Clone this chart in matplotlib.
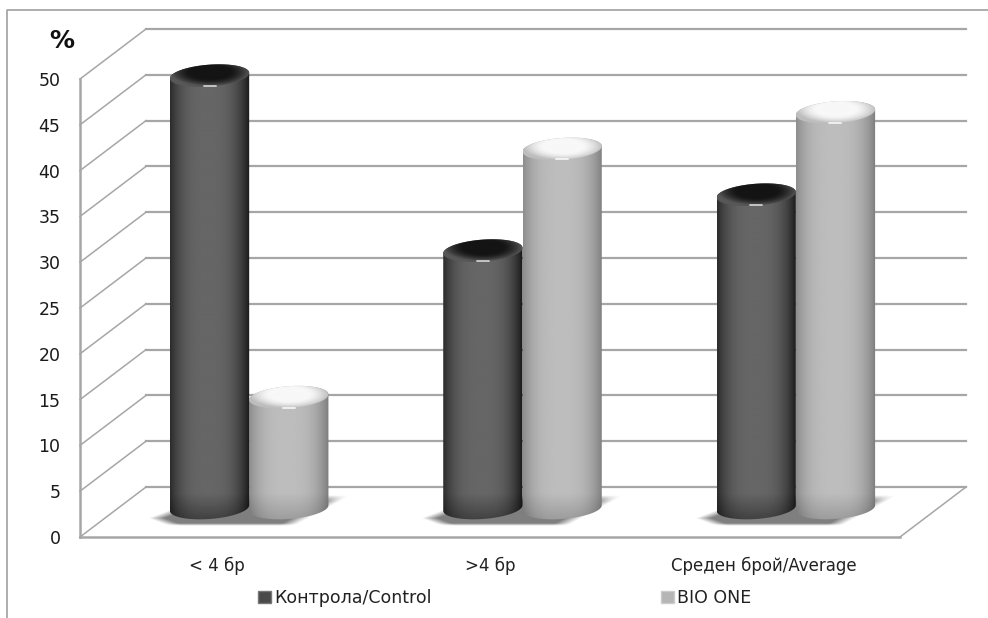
import matplotlib
matplotlib.use('Agg')
import matplotlib.pyplot as plt
import numpy as np
from matplotlib.lines import Line2D
from matplotlib.patches import Patch, PathPatch
from matplotlib.path import Path
from matplotlib.transforms import ScaledTranslation

plt.rcParams['font.family'] = ['DejaVu Sans']

categories = ['< 4 бр', '>4 бр', 'Среден брой/Average']
control = [47.2, 28.1, 34.2]
bio_one = [12.1, 39.2, 43.2]
series_names = ['Контрола/Control', 'BIO ONE']
y_ticks = [0, 5, 10, 15, 20, 25, 30, 35, 40, 45, 50]

grid_col = '#a6a6a6'
bar_w = 0.29
ell_h = 1.2       # half height of the cylinder ends, in value units
tilt = 0.3

fig = plt.figure(figsize=(9.88, 6.18), dpi=100)
ax = fig.add_axes([80/988, 1-537/618, 820/988, 458/618])

# depth of the fake 3d box, inches
back = ax.transData + ScaledTranslation(0.66, 0.50, fig.dpi_scale_trans)
mid = ax.transData + ScaledTranslation(0.325, 0.29, fig.dpi_scale_trans)


def shift(x, y, dx, dy):
  # x,y in data, shifted by inches
  return x + dx*100/273.33, y + dy*100/9.16


# walls
for v in y_ticks:
  ax.plot([0, 3], [v, v], color=grid_col, lw=1.6, transform=back, clip_on=False, zorder=1)
  x1, y1 = shift(0, v, 0.66, 0.50)
  ax.plot([0, x1], [v, y1], color=grid_col, lw=1.1, clip_on=False, zorder=1)
x1, y1 = shift(3, 0, 0.66, 0.50)
ax.plot([3, x1], [0, y1], color=grid_col, lw=1.1, clip_on=False, zorder=1)


def ellipse_pts(xc, yc, t):
  return xc + bar_w/2*np.cos(t), yc + ell_h*np.sin(t) + tilt*np.cos(t)


def shadow(xc):
  # soft floor shadow under a pair of bars
  ny, nx = 60, 260
  yy, xx = np.mgrid[0:1:ny*1j, 0:1:nx*1j]
  a = np.clip(np.minimum(xx - 0.4*np.abs(yy-0.75), 1 - xx - 0.28*yy) / 0.08, 0, 1)
  a = a*np.clip(np.minimum(yy/0.2, (1-yy)/0.08), 0, 1)
  img = np.zeros((ny, nx, 4))
  img[..., :3] = 0.5
  img[..., 3] = a
  ax.imshow(img, extent=[xc-0.37, xc+0.37, -1.95, 1.35], origin='upper', aspect='auto',
            transform=mid, zorder=2, clip_on=False)


def cylinder(xc, val, dark, z):
  t = np.linspace(0, np.pi, 60)
  bx, by = ellipse_pts(xc, 0, t + np.pi)
  tx, ty = ellipse_pts(xc, val, t)
  verts = np.column_stack([np.r_[bx, tx], np.r_[by, ty]])
  verts = np.vstack([verts, verts[0]])
  body = PathPatch(Path(verts), fc='none', ec='none', transform=mid, zorder=z)
  ax.add_patch(body)

  u = np.linspace(-1, 1, 200)
  if dark:
    prof = 0.40 - 0.27*np.abs(u + 0.05)**3.0
    rim, core = 0.34, 0.08
  else:
    prof = 0.74 - 0.22*np.abs(u + 0.05)**3.0
    rim, core = 0.74, 0.97
  rows = 200
  yv = np.linspace(val + ell_h, -ell_h, rows)
  low = np.clip((yv + ell_h)/3.0, 0, 1)
  shade = (0.62 + 0.38*low)[:, None] if dark else (0.82 + 0.18*low)[:, None]
  img = prof[None, :]*shade
  im = ax.imshow(img, cmap='gray', vmin=0, vmax=1, aspect='auto', zorder=z,
                 extent=[xc-bar_w/2, xc+bar_w/2, -ell_h-tilt, val+ell_h+tilt],
                 transform=mid)
  im.set_clip_box(fig.bbox)
  im.set_clip_path(body)

  # top cap
  tt = np.linspace(0, 2*np.pi, 120)
  cx, cy = ellipse_pts(xc, val, tt)
  cap = PathPatch(Path(np.column_stack([cx, cy])), fc='none', ec='none', transform=mid, zorder=z+1)
  ax.add_patch(cap)
  yy, xx = np.mgrid[1:-1:60j, -1:1:120j]
  r = np.clip(np.sqrt(xx**2 + (yy - 0.2)**2), 0, 1)
  capimg = core + (rim-core)*np.clip((r-0.5)/0.5, 0, 1)**1.5
  im2 = ax.imshow(capimg, cmap='gray', vmin=0, vmax=1, aspect='auto', zorder=z+1,
                  extent=[xc-bar_w/2, xc+bar_w/2, val-ell_h-tilt, val+ell_h+tilt],
                  transform=mid)
  im2.set_clip_box(fig.bbox)
  im2.set_clip_path(cap)
  # small highlight on the front rim
  ax.plot([xc-0.022, xc+0.022], [val-ell_h+0.05]*2, color='#e8e8e8' if dark else 'white',
          lw=1.4, alpha=0.75, transform=mid, zorder=z+2, solid_capstyle='round', clip_on=False)


for i in range(len(categories)):
  shadow(i + 0.5)
for i in range(len(categories)):
  cylinder(i + 0.5 - bar_w/2, control[i], True, 5)
  cylinder(i + 0.5 + bar_w/2, bio_one[i], False, 4)

ax.set_xlim(0, 3)
ax.set_ylim(0, 50)
for s in ['top', 'right']:
  ax.spines[s].set_visible(False)
for s in ['left', 'bottom']:
  ax.spines[s].set_color(grid_col)
  ax.spines[s].set_linewidth(1.8)
ax.patch.set_alpha(0)

ax.set_xticks([0.5, 1.5, 2.5])
ax.set_xticklabels(categories, fontsize=12, color='#222222')
ax.set_yticks(y_ticks)
ax.set_yticklabels([str(v) for v in y_ticks], fontsize=12.5, color='#1a1a1a')
ax.tick_params(axis='x', length=0, pad=14)
ax.tick_params(axis='y', length=0, pad=14)

fig.text(62/988, 1-41/618, '%', fontsize=18, fontweight='bold', ha='center', va='center', color='#111111')

# picture frame, left and top only
fig.add_artist(Line2D([7/988, 7/988, 1], [0, 1-10/618, 1-10/618], color='#a0a0a0', lw=1.2))

handles = [Patch(fc='#4a4a4a', ec='#777777'), Patch(fc='#b5b5b5', ec='#cccccc')]
fig.legend(handles, series_names, loc='center left', bbox_to_anchor=(242/988, 1-598/618),
           ncol=2, frameon=False, fontsize=12.5, handlelength=0.75, handleheight=0.75,
           handletextpad=0.2, columnspacing=13.2, labelcolor='#222222')

fig.savefig('out.png', dpi=100)
